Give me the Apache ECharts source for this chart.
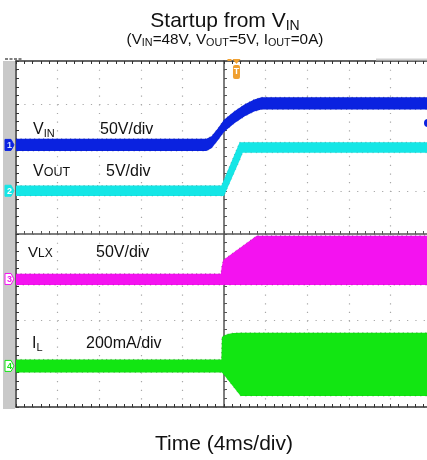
<!DOCTYPE html>
<html><head><meta charset="utf-8">
<script src="https://cdn.jsdelivr.net/npm/echarts@6/dist/echarts.min.js"></script>
<style>html,body{margin:0;padding:0;background:#fff}#c{width:427px;height:460px}</style>
</head><body><div id="c"></div><script>
const FONT = '"Liberation Sans", Arial, Helvetica, sans-serif';

// Time axis: 4 ms/div, 10 divisions
const timeMin = 0, timeMax = 40, timeStep = 4;
// Vertical: 8 divisions
const divMin = 0, divMax = 8;

// CH1 VIN (V), 50 V/div
const vinT  = [0, 18.3, 18.8, 19.4, 20.0, 21.0, 22.0, 22.9, 23.6, 40];
const vinHi = [7, 7, 10, 19, 29, 39, 47, 52.5, 55, 55];
const vinLo = [-7, -7, -4, 5, 15, 25, 33, 38.5, 41, 41];
// CH2 VOUT (V), 5 V/div
const voutT  = [0, 19.75, 20.0, 21.5, 21.8, 40];
const voutHi = [0.6, 0.6, 1.3, 5.6, 5.6, 5.6];
const voutLo = [-0.6, -0.6, -0.6, 3.5, 4.4, 4.4];
// CH3 VLX (V), 50 V/div
const vlxT  = [0, 19.7, 19.78, 19.93, 23.14, 40];
const vlxHi = [6, 6, 14, 22, 50, 50];
const vlxLo = [-7, -7, -7, -7, -7, -7];
// CH4 IL (mA), 200 mA/div
const ilT  = [0, 19.75, 19.8, 20.1, 20.5, 20.9, 21.6, 40];
const ilHi = [30, 30, 134, 143, 149, 152, 153, 153];
const ilLo = [-30, -30, -30, -48, -72, -96, -139, -139];

const channels = [
  {id:'1', name:'VIN',  t:vinT,  hi:vinHi,  lo:vinLo,  ground:6.06, perDiv:50,  color:'#0a22e0', edge:'#06107a', tagFill:'#0a22e0', tagText:'#cfe0ff'},
  {id:'2', name:'VOUT', t:voutT, hi:voutHi, lo:voutLo, ground:5.0,  perDiv:5,   color:'#14e6e6', edge:'#2a8a8a', tagFill:'#14e6e6', tagText:'#ffffff'},
  {id:'3', name:'VLX',  t:vlxT,  hi:vlxHi,  lo:vlxLo,  ground:2.96, perDiv:50,  color:'#f412f0', edge:'#6a1060', tagFill:'#ffffff', tagText:'#f412f0'},
  {id:'4', name:'IL',   t:ilT,   hi:ilHi,   lo:ilLo,   ground:0.95, perDiv:200, color:'#12e612', edge:'#1a6a1a', tagFill:'#ffffff', tagText:'#12e612'}
];

function band(ch, z) {
  const pts = ch.t.map((t, i) => [t, ch.ground + ch.hi[i] / ch.perDiv, ch.ground + ch.lo[i] / ch.perDiv]);
  return {
    type: 'custom', name: ch.name, xAxisIndex: 0, yAxisIndex: 0, clip: true, silent: true, z: z,
    data: pts, encode: {x: 0, y: [1, 2]},
    renderItem: (params, api) => {
      if (params.dataIndex !== 0) return null;
      const up = pts.map(p => api.coord([p[0], p[1]]));
      const dn = pts.map(p => api.coord([p[0], p[2]])).reverse();
      return {type: 'group', children: [
        {type: 'polygon', shape: {points: up.concat(dn)}, style: {fill: ch.color}},
        {type: 'polyline', shape: {points: up}, style: {stroke: ch.edge, lineWidth: 0.9, lineDash: [1.2, 3.3], opacity: 0.55, fill: null}},
        {type: 'polyline', shape: {points: dn}, style: {stroke: ch.edge, lineWidth: 0.9, lineDash: [1.2, 4.1], opacity: 0.45, fill: null}}
      ]};
    }
  };
}

const borderColor = '#333';
const crossColor = '#555';
const dotColor = '#a8a8a8';
const gridRect = {left: 16, right: -5, top: 61, bottom: 53, outerBoundsMode: 'none', containLabel: false};

const chart = echarts.init(document.getElementById('c'));
chart.setOption({
  animation: false,
  backgroundColor: '#fff',
  grid: [Object.assign({}, gridRect), Object.assign({}, gridRect)],
  xAxis: [
    {gridIndex: 0, type: 'value', min: timeMin, max: timeMax, interval: timeStep, position: 'bottom',
     axisLine: {show: true, onZero: false, lineStyle: {color: borderColor, width: 1.5}},
     axisTick: {show: true, inside: true, length: 3, lineStyle: {color: borderColor}},
     minorTick: {show: true, splitNumber: 5, length: 3, lineStyle: {color: borderColor}},
     axisLabel: {show: false},
     splitLine: {show: true, lineStyle: {color: dotColor, width: 1.2, type: [1.2, 7.45]}},
     name: 'Time (4ms/div)', nameLocation: 'middle', nameGap: 27,
     nameTextStyle: {fontSize: 21, fontFamily: FONT, color: '#111'}},
    {gridIndex: 0, type: 'value', min: timeMin, max: timeMax, interval: timeStep, position: 'top',
     axisLine: {show: true, onZero: false, lineStyle: {color: borderColor, width: 1.5}},
     axisTick: {show: true, inside: true, length: 3, lineStyle: {color: borderColor}},
     minorTick: {show: true, splitNumber: 5, length: 3, lineStyle: {color: borderColor}},
     axisLabel: {show: false}, splitLine: {show: false}},
    {gridIndex: 1, type: 'value', min: -20, max: 20, interval: 4,
     axisLine: {show: true, onZero: true, lineStyle: {color: crossColor, width: 1.5}},
     axisTick: {show: true, inside: true, length: 3, lineStyle: {color: crossColor}},
     minorTick: {show: true, splitNumber: 5, length: 3, lineStyle: {color: crossColor}},
     axisLabel: {show: false}, splitLine: {show: false}}
  ],
  yAxis: [
    {gridIndex: 0, type: 'value', min: divMin, max: divMax, interval: 1, position: 'left',
     axisLine: {show: true, onZero: false, lineStyle: {color: borderColor, width: 1.5}},
     axisTick: {show: true, inside: true, length: 3, lineStyle: {color: borderColor}},
     minorTick: {show: true, splitNumber: 5, length: 3, lineStyle: {color: borderColor}},
     axisLabel: {show: false},
     splitLine: {show: true, lineStyle: {color: dotColor, width: 1.2, type: [1.2, 7.12]}}},
    {gridIndex: 1, type: 'value', min: -4, max: 4, interval: 1,
     axisLine: {show: true, onZero: true, lineStyle: {color: crossColor, width: 1.5}},
     axisTick: {show: true, inside: true, length: 3, lineStyle: {color: crossColor}},
     minorTick: {show: true, splitNumber: 5, length: 3, lineStyle: {color: crossColor}},
     axisLabel: {show: false}, splitLine: {show: false}}
  ],
  series: channels.map((ch, i) => band(ch, 3 + i))
});

// ---- annotations ----
const g = [];
const mctx = document.createElement('canvas').getContext('2d');
function textW(s, size) { mctx.font = size + 'px ' + FONT; return mctx.measureText(s).width; }
// parts: [text, fontSize, dy]; drawn side by side from x, baseline at base + dy
function word(x, base, parts) {
  let cx = x;
  parts.forEach(([s, size, dy]) => {
    g.push({type: 'text', z: 20, x: cx, y: base + dy - 0.35 * size,
            style: {text: s, font: size + 'px ' + FONT, fill: '#111', align: 'left', verticalAlign: 'middle'}});
    cx += textW(s, size);
  });
}

// left grey strip
g.push({type: 'rect', z: 1, shape: {x: 3, y: 61, width: 12, height: 348}, style: {fill: '#c9c9c9'}});
// top-left dashes and top-right grey bar
g.push({type: 'line', z: 5, shape: {x1: 5, y1: 59, x2: 23, y2: 59}, style: {stroke: '#555', lineWidth: 1.5, lineDash: [3, 1.5]}});
g.push({type: 'line', z: 5, shape: {x1: 376, y1: 59.5, x2: 427, y2: 59.5}, style: {stroke: '#cfcfcf', lineWidth: 2}});

// channel tags at ground levels
channels.forEach(ch => {
  const p = chart.convertToPixel({xAxisIndex: 0, yAxisIndex: 0}, [0, ch.ground]);
  const y = p[1];
  g.push({type: 'polygon', z: 10, shape: {points: [[5, y - 5.5], [11, y - 5.5], [14, y], [11, y + 5.5], [5, y + 5.5]]},
          style: {fill: ch.tagFill, stroke: ch.color, lineWidth: 1}});
  g.push({type: 'text', z: 11, x: 9.5, y: y + 0.5, style: {text: ch.id, fill: ch.tagText, font: 'bold 9px ' + FONT, align: 'center', verticalAlign: 'middle'}});
});

// trigger marker
const trig = chart.convertToPixel({xAxisIndex: 0, yAxisIndex: 0}, [21.2, 8]);
g.push({type: 'polygon', z: 10, shape: {points: [[trig[0] - 4, 59], [trig[0] + 4, 59], [trig[0], 64]]}, style: {fill: '#f0a030'}});
g.push({type: 'line', z: 10, shape: {x1: trig[0] - 9, y1: 60, x2: trig[0] - 5, y2: 60}, style: {stroke: '#f0a030', lineWidth: 2}});
g.push({type: 'rect', z: 10, shape: {x: trig[0] - 3.5, y: 65, width: 7, height: 14, r: 2}, style: {fill: '#f0a030'}});
g.push({type: 'text', z: 11, x: trig[0], y: 72, style: {text: 'T', fill: '#fff', font: 'bold 9px ' + FONT, align: 'center', verticalAlign: 'middle'}});
// right-edge blue marker
g.push({type: 'circle', z: 10, shape: {cx: 428, cy: 123, r: 4}, style: {fill: '#0a22e0'}});

// title / subtitle
g.push({type: 'text', z: 20, x: 225, y: 20.8, style: {
  text: '{m|Startup from V}{s|IN}', align: 'center', verticalAlign: 'middle',
  rich: {m: {fontSize: 21, fontFamily: FONT, fill: '#111', lineHeight: 25},
         s: {fontSize: 14, fontFamily: FONT, fill: '#111', lineHeight: 17, verticalAlign: 'bottom'}}}});
g.push({type: 'text', z: 20, x: 225, y: 39.8, style: {
  text: '{m|(V}{s|IN}{m|=48V, V}{s|OUT}{m|=5V, I}{s|OUT}{m|=0A)}', align: 'center', verticalAlign: 'middle',
  rich: {m: {fontSize: 15.3, fontFamily: FONT, fill: '#111', lineHeight: 18},
         s: {fontSize: 10.8, fontFamily: FONT, fill: '#111', lineHeight: 11, verticalAlign: 'bottom'}}}});

// channel labels
word(33, 135, [['V', 16, 0], ['IN', 11, 3]]);
word(33, 177, [['V', 16, 0], ['OUT', 12.5, 0]]);
word(28, 258, [['V', 15, 0], ['LX', 12, 0]]);
word(32, 349, [['I', 16, 0], ['L', 11, 3]]);
word(100, 135, [['50V/div', 16, 0]]);
word(106, 177, [['5V/div', 16, 0]]);
word(96, 258, [['50V/div', 16, 0]]);
word(86, 349, [['200mA/div', 16, 0]]);

chart.setOption({graphic: {elements: g}});
</script></body></html>
